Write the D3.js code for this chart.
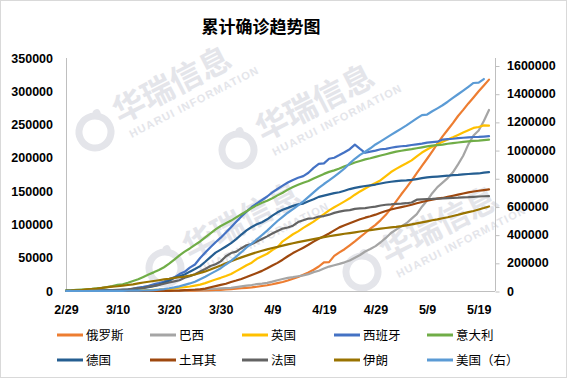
<!DOCTYPE html>
<html><head><meta charset="utf-8">
<script src="https://cdn.jsdelivr.net/npm/d3@7/dist/d3.min.js"></script>
<style>body{margin:0;background:#fff}svg{display:block}</style>
</head><body><svg id="c" width="567" height="378"></svg>
<script>
// ---------- data ----------
const title = "累计确诊趋势图";
const startDate = new Date(2020, 1, 29);           // first category: 2/29
const xTickLabels = ["2/29","3/10","3/20","3/30","4/9","4/19","4/29","5/9","5/19"];
const leftTicks = [0,50000,100000,150000,200000,250000,300000,350000];
const rightTicks = [0,200000,400000,600000,800000,1000000,1200000,1400000,1600000];
const seriesNames = ["俄罗斯","巴西","英国","西班牙","意大利","德国","土耳其","法国","伊朗","美国（右）"];
const seriesColors = ["#ED7D31","#A5A5A5","#FFC000","#4472C4","#70AD47","#255E91","#9E480E","#636363","#997300","#5B9BD5"];

// daily cumulative confirmed, 2/29 .. 5/21
const russia = [2,
 2,3,3,3,4,13,13,17,17,17,20,28,45,45,63,90,114,147,199,253,306,367,438,495,658,840,1036,1264,1534,1836,2337,
 2777,3548,4149,4731,5389,6343,7497,8672,10131,11917,13584,15770,18328,21102,24490,27938,32008,36793,42853,43300,52763,57999,62773,68622,74588,80949,87147,93558,99399,106498,
 114431,124054,134687,145268,155370,165929,177160,187859,198676,209688,221344,232243,242271,252245,262843,272043,281752,290678,299941,308705,317554];
const brazil = [1,
 1,2,2,2,2,4,4,13,13,20,25,31,38,52,151,151,162,200,321,372,621,793,1021,1546,1924,2247,2554,2985,3417,3904,4256,
 4579,5717,6836,8044,9056,10360,11130,12161,14034,16170,18092,19638,20727,22192,23430,25262,28320,30425,33682,36658,38654,40743,43079,45757,50036,54043,59324,63100,67446,73235,
 79685,87187,92202,97100,101826,108620,115455,126611,135773,146894,156061,162699,169594,178214,190137,203165,220291,233511,241080,255368,271885];
const uk = [20,
 23,36,40,51,86,116,164,207,274,322,384,459,459,802,1144,1145,1551,1960,2642,2716,4014,5067,5745,6726,8164,9640,11812,14745,17312,19780,22453,
 25481,29865,34173,38689,42477,48436,52279,55949,61474,65872,74605,79874,85206,89570,94845,99483,104145,109769,115314,121172,125856,130172,134638,139246,144640,149569,154037,158348,162350,166441,
 172481,178685,183500,187842,191832,196243,202359,207977,212629,216525,220449,224332,227741,230985,234440,238004,241461,244995,246406,248818,248293];
const spain = [32,
 45,84,120,165,222,259,400,500,673,1073,1695,2277,3146,5232,6391,7798,9942,11748,13910,17963,20410,25374,28768,35136,39885,49515,57786,65719,73235,80110,87956,
 95923,104118,112065,119199,126168,131646,136675,141942,148220,153222,158273,163027,166831,170099,172541,177644,184948,190839,191726,198674,200210,204178,208389,213024,219764,213500,207634,209465,210773,212917,
 213435,215216,216582,217466,218011,219329,220325,221447,222857,223578,224350,227436,228030,228691,229540,230183,230698,231350,231606,232037,232555];
const italy = [888,
 1128,1694,2036,2502,3089,3858,4636,5883,7375,9172,10149,12462,15113,17660,21157,24747,27980,31506,35713,41035,47021,53578,59138,63927,69176,74386,80589,86498,92472,97689,101739,
 105792,110574,115242,119827,124632,128948,132547,135586,139422,143626,147577,152271,156363,159516,162488,165155,168941,172434,175925,178972,181228,183957,187327,189973,192994,195351,197675,199414,201505,203591,
 205463,207428,209328,210717,211938,213013,214457,215858,217185,218268,219070,219814,221216,222104,223096,223885,224760,225435,225886,226699,227364];
const germany = [48,
 79,130,159,196,262,482,670,799,1040,1176,1457,1908,2078,3675,4585,5795,7272,9257,12327,15320,19848,22213,24873,29056,32986,37323,43938,50871,57695,62095,66885,
 71808,77872,84794,91159,96092,100123,103374,107663,113296,118181,122171,124908,127854,130072,131359,134753,137698,141397,143342,145184,147065,148291,150648,153129,154999,156513,157770,158758,159912,161539,
 163009,164077,164967,165664,166152,167007,168162,169430,170588,171324,171879,172576,173171,174098,174478,175233,175752,176369,176551,177778,178473];
const turkey = [0,
 0,0,0,0,0,0,0,0,0,0,0,1,1,5,5,6,18,47,98,192,359,670,1236,1529,1872,2433,3629,5698,7402,9217,10827,
 13531,15679,18135,20921,23934,27069,30217,34109,38226,42282,47029,52167,56956,61049,65111,69392,74193,78546,82329,86306,90980,95591,98674,101790,104912,107773,110130,112261,114653,117589,
 120204,122392,124375,126045,127659,129491,131744,133721,135569,137115,138657,139771,141475,143114,144749,146457,148067,149435,150593,151615,152587];
const france = [100,
 130,191,204,285,377,653,949,1126,1209,1784,2284,2284,3667,4480,4513,6650,7699,9105,10947,12726,14431,16176,19856,22304,25233,29155,32964,37575,40174,44550,52128,
 56989,59105,64338,68605,70478,74390,78167,82048,86334,90276,93790,95403,98076,103573,106206,108847,109252,111821,112606,114657,117324,119151,120804,121407,123279,124114,124575,125770,126835,128442,
 129581,130185,130979,131287,131863,132967,137150,137779,138161,138421,138854,139063,139519,140010,140227,140734,140959,141356,141919,142291,142411];
const iran = [388,
 593,978,1501,2336,2922,3513,4747,5823,6566,7161,8042,9000,10075,11364,12729,13938,14991,16169,17361,18407,19644,20610,21638,23049,24811,27017,29406,32332,35408,38309,41495,
 44605,47593,50468,53183,55743,58226,60500,62589,64586,66220,68192,70029,71686,73303,74877,76389,77995,79494,80868,82211,83505,84802,85996,87026,88194,89328,90481,91472,92584,93657,
 94640,95646,96448,97424,98647,99970,101650,103135,104691,106220,107603,109286,110767,112725,114533,116635,118392,120198,122492,124603,126949];
const usa = [68,
 75,100,124,158,221,319,435,541,704,994,1301,1630,2183,2770,3613,4596,6344,9197,13779,19273,25600,33276,43843,53736,65778,83836,101657,121465,140909,161831,
 188172,213242,243622,275367,308650,336802,366317,397121,428654,462780,496535,526396,555313,580619,607670,636350,667801,699706,732197,759086,784326,811865,840351,869170,905358,938154,965785,988197,1012582,1039909,
 1062000,1085000,1108000,1130000,1152000,1175000,1200000,1225000,1248000,1252000,1275000,1296000,1318000,1343000,1370000,1396000,1422000,1449000,1476000,1478000,1504000];

const leftSeries = [russia, brazil, uk, spain, italy, germany, turkey, france, iran];
const rightSeries = [usa];

// ---------- layout ----------
const svg = d3.select("#c");
const W = 567, H = 378;
const plot = {left: 66, right: 495, top: 58, bottom: 291};
const numFont = "'Liberation Sans', Arial, sans-serif";
const cjkFont = "'Noto Sans CJK SC', sans-serif";

svg.append("rect").attr("x",0.5).attr("y",0.5).attr("width",W-1).attr("height",H-1)
  .attr("fill","#fff").attr("stroke","#d9d9d9");

// watermark
const wmColor = "#e4e5ea";
function watermark(cx, cy) {
  const g = svg.append("g").attr("transform", `translate(${cx},${cy}) rotate(-27)`);
  g.append("circle").attr("r", 16).attr("fill","none").attr("stroke", wmColor).attr("stroke-width", 7);
  g.append("circle").attr("cx", 10).attr("cy", -16).attr("r", 4).attr("fill", wmColor);
  g.append("text").attr("x", 26).attr("y", 4).attr("font-family", cjkFont).attr("font-weight", "bold")
    .attr("font-size", 32).attr("fill", wmColor).text("华瑞信息");
  g.append("text").attr("x", 30).attr("y", 22).attr("font-family", numFont).attr("font-weight", "bold")
    .attr("font-size", 11).attr("letter-spacing", 1.2).attr("fill", wmColor).text("HUARUI INFORMATION");
}
watermark(95, 132);
watermark(238, 150);
watermark(165, 268);
watermark(362, 272);

// title
svg.append("text").attr("x", 261).attr("y", 33).attr("text-anchor","middle")
  .attr("font-family", cjkFont).attr("font-weight","bold").attr("font-size", 17).attr("fill","#000")
  .text(title);

// scales
const dates = d3.timeDay.range(startDate, d3.timeDay.offset(startDate, russia.length));
const x = d3.scaleTime().domain([dates[0], dates[dates.length-1]]).range([plot.left, 489]);
const yL = d3.scaleLinear().domain([0, 350000]).range([plot.bottom, plot.top]);
const yR = d3.scaleLinear().domain([0, 1600000]).range([plot.bottom, 65.5]);

// axis lines
const axisColor = "#bfbfbf";
svg.append("line").attr("x1", plot.left+0.5).attr("x2", plot.left+0.5).attr("y1", plot.top).attr("y2", plot.bottom)
  .attr("stroke", axisColor);
svg.append("line").attr("x1", plot.right+0.5).attr("x2", plot.right+0.5).attr("y1", plot.top).attr("y2", plot.bottom)
  .attr("stroke", axisColor);
svg.append("line").attr("x1", plot.left).attr("x2", plot.right).attr("y1", plot.bottom+0.5).attr("y2", plot.bottom+0.5)
  .attr("stroke", axisColor);

// left axis
const gL = svg.append("g").attr("transform", `translate(${plot.left},0)`)
  .call(d3.axisLeft(yL).tickValues(leftTicks).tickSize(0).tickPadding(13).tickFormat(d3.format("d")));
gL.select(".domain").remove();
gL.selectAll("text").attr("font-family", numFont).attr("font-weight","bold").attr("font-size", 12.5).attr("fill","#000");

// right axis
const gR = svg.append("g").attr("transform", `translate(${plot.right},0)`)
  .call(d3.axisRight(yR).tickValues(rightTicks).tickSize(4).tickPadding(8).tickFormat(d3.format("d")));
gR.select(".domain").remove();
gR.selectAll("line").attr("stroke", axisColor).attr("transform","translate(0.5,0.5)");
gR.selectAll("text").attr("font-family", numFont).attr("font-weight","bold").attr("font-size", 12.5).attr("fill","#000");

// bottom axis
const tickDates = xTickLabels.map(s => { const [m, d] = s.split("/").map(Number); return new Date(2020, m-1, d); });
const gB = svg.append("g").attr("transform", `translate(0,${plot.bottom})`)
  .call(d3.axisBottom(x).tickValues(tickDates).tickSize(0).tickPadding(14)
    .tickFormat((d,i) => xTickLabels[i]));
gB.select(".domain").remove();
gB.selectAll("text").attr("font-family", numFont).attr("font-weight","bold").attr("font-size", 12.5).attr("fill","#000");

// lines
const lineL = d3.line().x((d,i) => x(dates[i])).y(d => yL(d));
const lineR = d3.line().x((d,i) => x(dates[i])).y(d => yR(d));
const gLines = svg.append("g").attr("fill","none").attr("stroke-width", 2.2).attr("stroke-linejoin","round").attr("stroke-linecap","round");
leftSeries.forEach((s, k) => {
  gLines.append("path").attr("d", lineL(s)).attr("stroke", seriesColors[k]);
});
rightSeries.forEach((s, k) => {
  gLines.append("path").attr("d", lineR(s)).attr("stroke", seriesColors[leftSeries.length + k]);
});

// legend
const legX = [57, 150, 242, 334, 427];
const legY = [335, 360];
seriesNames.forEach((name, i) => {
  const cx = legX[i % 5], cy = legY[Math.floor(i / 5)];
  const g = svg.append("g");
  g.append("line").attr("x1", cx).attr("x2", cx + 26).attr("y1", cy).attr("y2", cy)
    .attr("stroke", seriesColors[i]).attr("stroke-width", 3);
  g.append("text").attr("x", cx + 29).attr("y", cy + 4.5).attr("font-family", cjkFont)
    .attr("font-size", 12.5).attr("fill", "#000").text(name);
});
</script>
</body></html>
